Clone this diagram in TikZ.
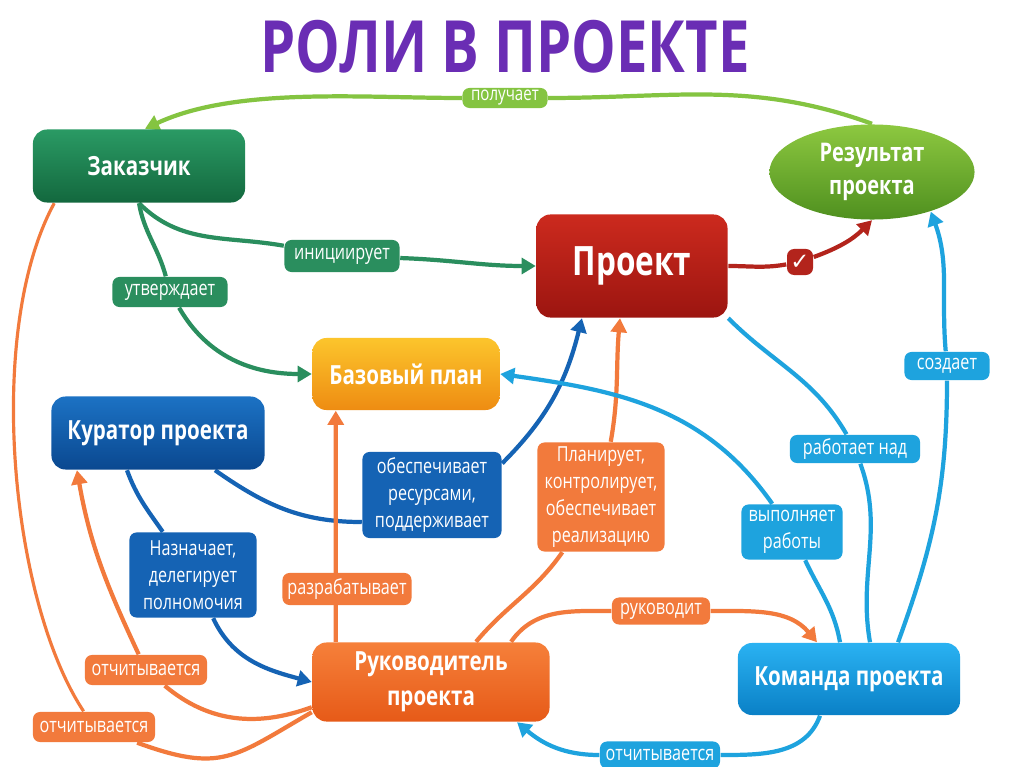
\documentclass[tikz,border=0pt]{standalone}
\usepackage{fontspec}
\setmainfont{Open Sans}[FakeStretch=0.78]
\newfontfamily\symfont{DejaVu Sans}
\usetikzlibrary{shapes.geometric,
                arrows.meta}

\pgfdeclarelayer{back}
\pgfsetlayers{back,main}

\definecolor{zaktop}{HTML}{2A9A64}
\definecolor{zakbot}{HTML}{13683E}
\definecolor{zakline}{HTML}{2A8E5E}
\definecolor{getline}{HTML}{84C441}
\definecolor{restop}{HTML}{8DC840}
\definecolor{resbot}{HTML}{4F901F}
\definecolor{projtop}{HTML}{CC2A1E}
\definecolor{projbot}{HTML}{9C1510}
\definecolor{redline}{HTML}{B3241C}
\definecolor{plantop}{HTML}{FCC52C}
\definecolor{planbot}{HTML}{EE8C12}
\definecolor{kurtop}{HTML}{1C72C4}
\definecolor{kurbot}{HTML}{0A4890}
\definecolor{curline}{HTML}{1563B4}
\definecolor{ruktop}{HTML}{F6803A}
\definecolor{rukbot}{HTML}{E65A18}
\definecolor{leadline}{HTML}{F27A3C}
\definecolor{komtop}{HTML}{2AB2F2}
\definecolor{kombot}{HTML}{0A80C6}
\definecolor{teamline}{HTML}{1EA3DE}
\definecolor{titlepurple}{HTML}{6A2DB4}

\begin{document}
\begin{tikzpicture}[x=0.01cm, y=0.01cm,
    role/.style={rounded corners=4pt, text=white, align=center, inner sep=0pt,
                 font=\bfseries\fontsize{7.5}{9}\selectfont},
    tag/.style={rounded corners=2pt, text=white, align=center, inner sep=0pt,
                font=\fontsize{5.9}{7.7}\selectfont},
    link/.style={line width=1.2pt},
    arr/.style={-{Triangle[length=4pt,width=4.5pt]}}]

    \useasboundingbox (0,0) rectangle (1024,-767);

    \node[text=titlepurple, inner sep=0pt, font=\bfseries\fontsize{20.5}{21}\selectfont] (title) at (505,-47) {РОЛИ В ПРОЕКТЕ};

    % roles
    \node[role, top color=zaktop, bottom color=zakbot, minimum width=2.12cm, minimum height=0.73cm] (zak) at (139,-166) {Заказчик};
    \node[role, ellipse, top color=restop, bottom color=resbot, minimum width=2.05cm, minimum height=0.95cm,
          font=\bfseries\fontsize{7.3}{9.5}\selectfont] (res) at (872,-172) {Результат\\проекта};
    \node[role, top color=projtop, bottom color=projbot, minimum width=1.91cm, minimum height=1.03cm,
          font=\bfseries\fontsize{11.5}{13}\selectfont] (proj) at (632,-266) {Проект};
    \node[role, top color=plantop, bottom color=planbot, minimum width=1.87cm, minimum height=0.72cm] (plan) at (406,-374) {Базовый план};
    \node[role, top color=kurtop, bottom color=kurbot, minimum width=2.13cm, minimum height=0.73cm] (kur) at (158,-433) {Куратор проекта};
    \node[role, top color=ruktop, bottom color=rukbot, minimum width=2.37cm, minimum height=0.79cm,
          font=\bfseries\fontsize{7.5}{10}\selectfont] (ruk) at (431,-682) {Руководитель\\проекта};
    \node[role, top color=komtop, bottom color=kombot, minimum width=2.22cm, minimum height=0.72cm] (kom) at (849,-679) {Команда проекта};

    % labels on the links
    \node[tag, fill=getline, minimum width=0.85cm, minimum height=0.2cm, font=\fontsize{5.5}{6}\selectfont] (l-get) at (505,-98) {получает};
    \node[tag, fill=zakline, minimum width=1.15cm, minimum height=0.32cm] (l-init) at (342,-256) {инициирует};
    \node[tag, fill=zakline, minimum width=1.15cm, minimum height=0.30cm] (l-appr) at (170,-292) {утверждает};
    \node[tag, fill=redline, minimum width=0.26cm, minimum height=0.26cm, font=\symfont\fontsize{6.5}{7}\selectfont] (check) at (800,-262) {✓};
    \node[tag, fill=curline, minimum width=1.39cm, minimum height=0.86cm] (l-res) at (432,-495) {обеспечивает\\ресурсами,\\поддерживает};
    \node[tag, fill=leadline, minimum width=1.27cm, minimum height=1.09cm] (l-plan) at (601,-497) {Планирует,\\контролирует,\\обеспечивает\\реализацию};
    \node[tag, fill=curline, minimum width=1.27cm, minimum height=0.85cm] (l-assign) at (193,-575) {Назначает,\\делегирует\\полномочия};
    \node[tag, fill=leadline, minimum width=1.29cm, minimum height=0.32cm] (l-dev) at (347,-589) {разрабатывает};
    \node[tag, fill=leadline, minimum width=1.22cm, minimum height=0.30cm] (l-rep1) at (146,-670) {отчитывается};
    \node[tag, fill=leadline, minimum width=1.22cm, minimum height=0.30cm] (l-rep2) at (94,-727) {отчитывается};
    \node[tag, fill=leadline, minimum width=0.98cm, minimum height=0.27cm] (l-lead) at (661,-611) {руководит};
    \node[tag, fill=teamline, minimum width=1.20cm, minimum height=0.27cm] (l-rep3) at (660,-755) {отчитывается};
    \node[tag, fill=teamline, minimum width=1.30cm, minimum height=0.28cm] (l-work) at (855,-449) {работает над};
    \node[tag, fill=teamline, minimum width=1.01cm, minimum height=0.55cm] (l-exec) at (792,-532) {выполняет\\работы};
    \node[tag, fill=teamline, minimum width=0.85cm, minimum height=0.28cm] (l-make) at (947,-366) {создает};

    \begin{pgfonlayer}{back}
      \fill[white] (0,0) rectangle (1024,-767);
      \begin{scope}[link, draw=getline]
        \draw (res.north) to[out=160,in=0] (l-get);
        \draw[arr] (l-get) to[out=180,in=25,looseness=0.8] ([xshift=0.06cm]zak.north);
      \end{scope}
      \begin{scope}[link, draw=zakline]
        \draw (zak.south) to[out=-45,in=170] (l-init);
        \draw[arr] (l-init) to[out=-2,in=180] (proj.west);
        \draw (zak.south) to[out=-80,in=105] (l-appr);
        \draw[arr] (l-appr) to[out=-60,in=180] (plan.west);
      \end{scope}
      \begin{scope}[link, draw=redline]
        \draw (proj.east) to[out=0,in=190] (check);
        \draw[arr] (check) to[out=20,in=-135] (res.south);
      \end{scope}
      \begin{scope}[link, draw=curline]
        \draw ([xshift=0.57cm]kur.south) to[out=-35,in=180] ([yshift=-0.27cm]l-res.west);
        \draw[arr] ([yshift=-0.12cm]l-res.north east) to[out=45,in=-104] ([xshift=-0.5cm]proj.south);
        \draw ([xshift=-0.31cm]kur.south) to[out=-70,in=125] (l-assign);
        \draw[arr] (l-assign) to[out=-65,in=165] (ruk.west);
      \end{scope}
      \begin{scope}[link, draw=leadline]
        \draw[arr] ([xshift=0.24cm]ruk.north west) -- ([xshift=0.24cm]plan.south west);
        \draw ([xshift=0.45cm]ruk.north) to[out=50,in=-125] (l-plan);
        \draw[arr] (l-plan) to[out=80,in=-95] ([xshift=-0.12cm]proj.south);
        \draw ([xshift=0.8cm]ruk.north) to[out=55,in=180] (l-lead);
        \draw[arr] (l-lead) to[out=0,in=130] ([xshift=-0.32cm]kom.north);
        \draw ([yshift=0.15cm]ruk.south west) to[out=200,in=-40] (l-rep1);
        \draw[arr] (l-rep1) to[out=115,in=-80] ([xshift=-0.81cm]kur.south);
        \draw ([yshift=0.1cm]ruk.south west) to[out=210,in=-20,looseness=1.3] (l-rep2);
        \draw[line width=0.9pt] (l-rep2) .. controls (10,-600) and (-15,-330) .. ([xshift=0.22cm]zak.south west);
      \end{scope}
      \begin{scope}[link, draw=teamline]
        \draw ([xshift=0.49cm]kom.north) to[out=70,in=-90] (l-make);
        \draw[arr] (l-make) to[out=95,in=-70] (res.-34);
        \draw ([xshift=0.21cm]kom.north) to[out=100,in=-70] (l-work);
        \draw (l-work) to[out=120,in=-45] (proj.south east);
        \draw ([xshift=-0.09cm]kom.north) to[out=100,in=-65] (l-exec);
        \draw[arr] (l-exec) to[out=125,in=-8] (plan.east);
        \draw ([xshift=-0.29cm]kom.south) to[out=-110,in=0] (l-rep3);
        \draw[arr] (l-rep3) to[out=180,in=-40] ([xshift=0.86cm]ruk.south);
      \end{scope}
    \end{pgfonlayer}
  \end{tikzpicture}
\end{document}
